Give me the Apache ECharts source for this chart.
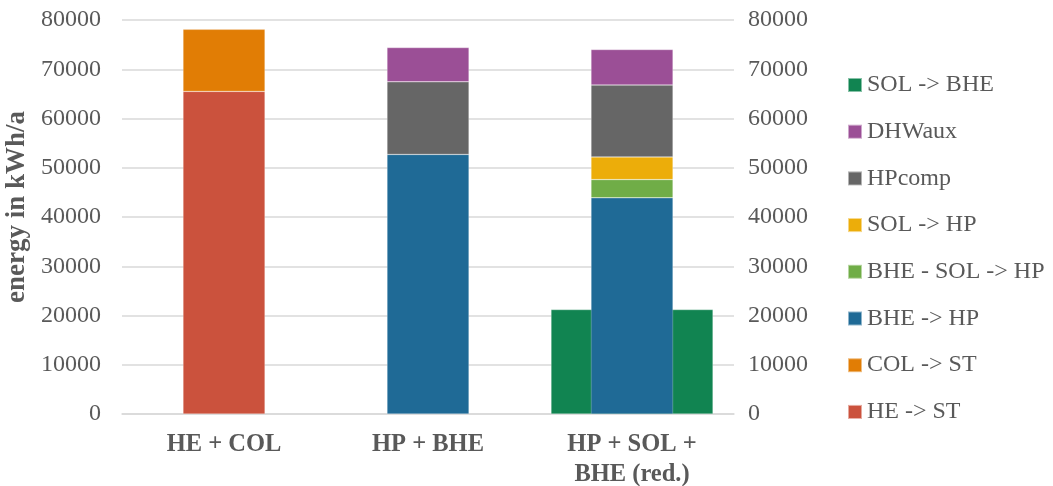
<!DOCTYPE html>
<html><head><meta charset="utf-8">
<script src="https://cdn.jsdelivr.net/npm/echarts@6/dist/echarts.min.js"></script>
<style>html,body{margin:0;padding:0;background:#fff}#c{width:1053px;height:486px}</style>
</head><body><div id="c"></div>
<script>
const categories = ['HE + COL', 'HP + BHE', 'HP + SOL +\nBHE (red.)'];
const yTicks = { min: 0, max: 80000, interval: 10000 };
const heSt = [65500, null, null];
const colSt = [12600, null, null];
const bheHp = [null, 52700, 43900];
const bheSolHp = [null, null, 3700];
const solHp = [null, null, 4600];
const hpComp = [null, 14750, 14600];
const dhwAux = [null, 6950, 7200];
const solBhe = [null, null, 21200];

const font = '"Liberation Serif", "Times New Roman", serif';
const txt = '#595959';
const chart = echarts.init(document.getElementById('c'), null, {renderer: 'canvas'});
function main(name, data, color) {
  return { name, type: 'bar', stack: 'main', xAxisIndex: 0, yAxisIndex: 0, barWidth: 82, z: 3,
    data, itemStyle: { color, borderColor: 'rgba(255,255,255,0.5)', borderWidth: 0.5 } };
}
chart.setOption({
  animation: false,
  textStyle: { fontFamily: font },
  grid: { left: 122, right: 319, top: 20, bottom: 72, containLabel: false, outerBoundsMode: 'none' },
  legend: {
    orient: 'vertical', left: 842, top: 68, itemWidth: 14, itemHeight: 14, itemGap: 22.7,
    icon: 'rect',
    textStyle: { fontFamily: font, fontSize: 24, color: txt, lineHeight: 24 },
    data: ['SOL -> BHE', 'DHWaux', 'HPcomp', 'SOL -> HP', 'BHE - SOL -> HP', 'BHE -> HP', 'COL -> ST', 'HE -> ST']
  },
  xAxis: [
    { type: 'category', data: categories,
      axisLine: { lineStyle: { color: '#d9d9d9', width: 1.5 } }, axisTick: { show: false },
      axisLabel: { fontFamily: font, fontWeight: 'bold', fontSize: 24.5, color: txt, margin: 16, lineHeight: 30 } },
    { type: 'category', data: categories, show: false }
  ],
  yAxis: [
    { type: 'value', min: yTicks.min, max: yTicks.max, interval: yTicks.interval,
      name: 'energy in kWh/a', nameLocation: 'middle', nameGap: 89,
      nameTextStyle: { fontFamily: font, fontWeight: 'bold', fontSize: 27, color: txt, padding: [0, 0, 0, 20] },
      axisLabel: { fontFamily: font, fontSize: 24, color: txt, margin: 21, formatter: v => String(v) },
      axisLine: { show: false }, axisTick: { show: false },
      splitLine: { lineStyle: { color: '#d9d9d9', width: 1.5 } } },
    { type: 'value', min: yTicks.min, max: yTicks.max, interval: yTicks.interval, position: 'right',
      axisLabel: { fontFamily: font, fontSize: 24, color: txt, margin: 14, formatter: v => String(v) },
      axisLine: { show: false }, axisTick: { show: false }, splitLine: { show: false } }
  ],
  series: [
    { name: 'SOL -> BHE', type: 'bar', xAxisIndex: 1, yAxisIndex: 1, barWidth: 162, z: 1,
      data: solBhe, itemStyle: { color: '#118451', borderColor: 'rgba(255,255,255,0.5)', borderWidth: 0.5 } },
    main('HE -> ST', heSt, '#CB523D'),
    main('COL -> ST', colSt, '#E17D05'),
    main('BHE -> HP', bheHp, '#1F6A96'),
    main('BHE - SOL -> HP', bheSolHp, '#70AD47'),
    main('SOL -> HP', solHp, '#ECAD0A'),
    main('HPcomp', hpComp, '#666666'),
    main('DHWaux', dhwAux, '#9B4F96')
  ]
});
</script></body></html>
